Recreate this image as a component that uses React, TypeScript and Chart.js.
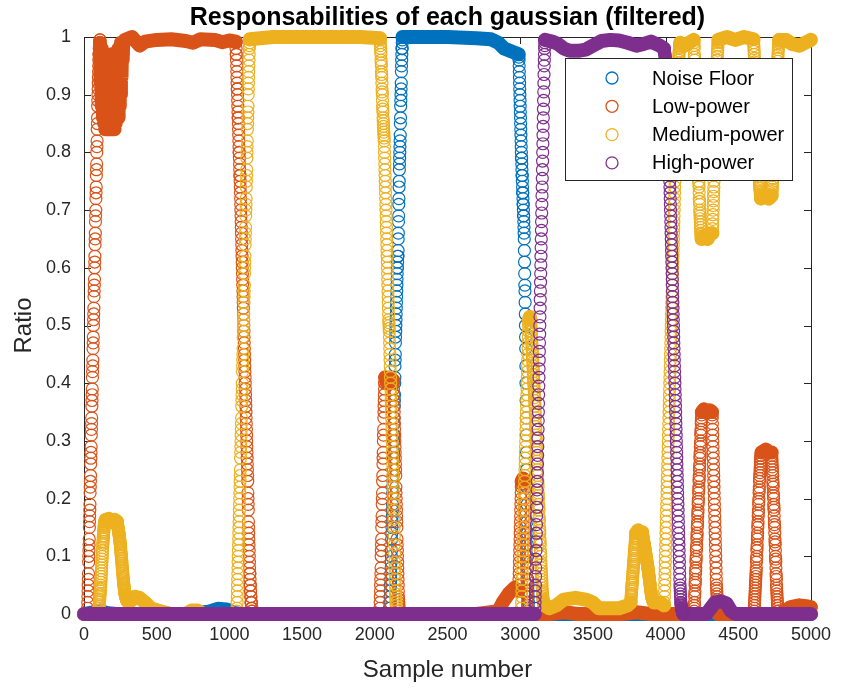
import React, { useEffect, useRef } from "react";
import { Chart, registerables } from "chart.js";
Chart.register(...registerables);

// ---------- axes ----------
const xTicks = [0, 500, 1000, 1500, 2000, 2500, 3000, 3500, 4000, 4500, 5000];
const yTicks = [0, 0.1, 0.2, 0.3, 0.4, 0.5, 0.6, 0.7, 0.8, 0.9, 1];
const yTickLabels = ["0", "0.1", "0.2", "0.3", "0.4", "0.5", "0.6", "0.7", "0.8", "0.9", "1"];

const titleText = "Responsabilities of each gaussian (filtered)";
const xLabel = "Sample number";
const yLabel = "Ratio";

const seriesNames = ["Noise Floor", "Low-power", "Medium-power", "High-power"];
const seriesColors = ["#0072BD", "#D95319", "#EDB120", "#7E2F8E"];

// ---------- data (ratio in %) ----------
// "bands": slowly varying stretches, [sample, %] pairs
// "runs": steep stretches, [first sample, sample step, values in %]

const noiseBands = [
  [[0, 0], [60, 0.3], [110, 0.6], [150, 0.2], [220, 0], [700, 0], [860, 0.4], [920, 0.9], [980, 0.8], [1030, 0.2], [1080, 0], [2000, 0], [2100, 0]],
  [[2190, 100], [2300, 100], [2500, 100], [2700, 99.8], [2800, 99.6], [2850, 99], [2890, 98], [2950, 97.4], [2990, 97]],
  [[3060, 0], [4000, 0], [5000, 0]],
];
const noiseRuns = [
  [2100, 1, [0, 0, 1, 1, 2, 2, 3, 4, 5, 5, 6, 7, 8, 9, 10, 11, 13, 14, 15, 16, 17, 18, 19, 21, 22, 23, 24, 25, 27, 28, 30, 31, 33, 34, 36, 37, 38, 40, 41, 43, 44, 45, 47, 48, 49, 50, 51, 52, 53, 54, 55, 56, 57, 58, 59, 60, 60, 61, 62, 62, 63, 65, 66, 68, 69, 71, 72, 74, 75, 77, 78, 79, 80, 81, 82, 83, 85, 86, 88, 89, 90, 91, 92, 94, 95, 96, 97, 98, 98, 99, 99.5]],
  [2990, 1, [97, 96.5, 96, 95, 94, 93, 92, 91, 90, 89, 88, 87, 86, 85, 84, 83, 82, 81, 80, 79, 79, 78, 77, 76, 76, 75, 74, 73, 73, 72, 71, 71, 70, 69, 69, 68, 67, 66, 65, 63, 61, 59, 57, 56, 54, 52, 50, 48, 46, 43, 40, 37, 34, 31, 28, 25, 22, 19, 16, 14, 12, 10, 8, 6, 5, 4, 3, 2, 1, 0.5, 0]],
];

const lowBands = [
  [[0, 0], [24, 0]],
  [[110, 99], [114, 92], [118, 98], [122, 88], [126, 97], [130, 86], [134, 96], [138, 85], [142, 95], [146, 84], [150, 97], [154, 85], [158, 94], [162, 84], [166, 96], [170, 85], [174, 93], [178, 84], [182, 95], [186, 85], [190, 97], [194, 84], [198, 93], [202, 85], [206, 96], [210, 84], [214, 94], [218, 85], [222, 97], [226, 86], [230, 95], [234, 86], [238, 98], [242, 88], [246, 96], [250, 90], [254, 99], [258, 93], [262, 99], [266, 96], [270, 99], [280, 99.5], [330, 100], [383, 98.5], [420, 99.2], [500, 99.5], [600, 99.6], [700, 99.3], [750, 99], [800, 99.6], [900, 99.5], [950, 99.1], [1000, 99.4], [1045, 99.2]],
  [[1159, 0], [1600, 0], [2035, 0]],
  [[2071, 41], [2085, 40], [2100, 41], [2115, 40], [2128, 40.5]],
  [[2170, 0], [2700, 0], [2850, 0.5], [2880, 2], [2920, 3.5], [2960, 4.5], [2990, 4]],
  [[3010, 23], [3020, 23.5], [3028, 23]],
  [[3054, 0], [3200, 0], [3300, 0.3], [3400, 0], [3700, 0], [3800, 0.3], [3900, 0], [4195, 0]],
  [[4249, 35], [4265, 35.5], [4285, 35], [4305, 35.3], [4320, 35]],
  [[4360, 0], [4608, 0]],
  [[4660, 28], [4690, 28.5], [4715, 28], [4730, 28]],
  [[4780, 0], [4820, 0.5], [4860, 1.2], [4920, 1.5], [4980, 1.3], [5000, 1.2]],
];
const lowRuns = [
  [24, 1, [0, 1, 2, 3, 4, 5, 6, 7, 9, 10, 11, 12, 13, 15, 16, 17, 18, 19, 21, 22, 23, 24, 26, 27, 28, 29, 31, 32, 33, 34, 36, 37, 38, 39, 41, 42, 43, 44, 46, 47, 48, 50, 51, 52, 53, 55, 56, 57, 58, 60, 61, 62, 64, 65, 66, 68, 69, 70, 72, 73, 74, 76, 77, 78, 80, 81, 82, 84, 85, 86, 88, 89, 90, 91, 92, 93, 94, 95, 96, 97, 97, 98, 98, 99, 99, 99.5, 99.5]],
  [1045, 1, [99, 98, 97, 97, 96, 95, 94, 93, 92, 91, 91, 90, 89, 88, 87, 86, 86, 85, 84, 83, 82, 81, 80, 80, 79, 78, 77, 76, 76, 75, 74, 73, 72, 71, 70, 69, 68, 67, 66, 65, 64, 63, 62, 61, 60, 59, 58, 57, 56, 55, 54, 53, 52, 51, 50, 49, 48, 47, 46, 45, 44, 43, 42, 41, 40, 39, 38, 37, 36, 35, 34, 33, 32, 31, 30, 29, 28, 27, 26, 25, 24, 23, 21, 20, 19, 18, 16, 15, 14, 13, 12, 11, 10, 9, 8, 7, 7, 6, 5, 5, 4, 4, 3, 3, 2, 2, 2, 1, 1, 1, 0.5, 0.5, 0, 0, 0]],
  [2035, 1, [0, 1, 2, 3, 4, 5, 6, 7, 8, 10, 11, 12, 13, 15, 16, 17, 19, 20, 21, 23, 24, 26, 27, 28, 30, 31, 32, 34, 35, 36, 37, 38, 39, 40, 40, 41, 41]],
  [2128, 1, [40, 39, 38, 37, 36, 35, 34, 33, 32, 31, 30, 29, 28, 27, 26, 25, 24, 22, 21, 20, 19, 18, 17, 16, 15, 13, 12, 11, 10, 9, 8, 7, 6, 5, 4, 3, 2.5, 2, 1.5, 1, 0.5, 0, 0]],
  [2990, 1, [4, 5, 6, 7, 8, 9, 10, 11, 12, 13, 14, 15, 16, 17, 18, 19, 20, 21, 22, 22.5, 23]],
  [3028, 1, [22.5, 22, 21, 20, 19, 18, 17, 16, 15, 14, 13, 12, 11, 10, 9, 8, 7, 6, 5, 4, 3.5, 3, 2, 1.5, 1, 0.5, 0]],
  [4195, 1, [0, 0.5, 1, 1.5, 2, 3, 3.5, 4, 5, 5.5, 6, 7, 7.5, 8, 9, 9.5, 10, 11, 11.5, 12, 13, 13.5, 14, 15, 15.5, 16, 17, 17.5, 18, 19, 19.5, 20, 21, 21.5, 22, 23, 23.5, 24, 25, 25.5, 26, 27, 27.5, 28, 29, 29.5, 30, 31, 31.5, 32, 33, 33.5, 34, 34.5, 35]],
  [4320, 1, [34.5, 34, 33, 32, 31, 30, 29, 28, 27, 26, 25, 24, 23, 22, 21, 20, 19, 18, 17, 16, 15, 14, 13, 12, 11, 10, 9, 8, 7, 6, 5, 4.5, 4, 3.5, 3, 2.5, 2, 1.5, 1, 0.5, 0]],
  [4608, 1, [0, 0.5, 1, 1.5, 2, 2.5, 3, 3.5, 4, 4.5, 5, 5.5, 6, 6.5, 7, 7.5, 8, 9, 9.5, 10, 11, 11.5, 12, 13, 13.5, 14, 15, 15.5, 16, 17, 17.5, 18, 19, 19.5, 20, 21, 21.5, 22, 23, 23.5, 24, 24.5, 25, 25.5, 26, 26.5, 27, 27, 27.5, 27.5, 28, 28, 28]],
  [4730, 1, [27.5, 27, 26.5, 26, 25.5, 25, 24.5, 24, 23, 22.5, 22, 21, 20.5, 20, 19, 18.5, 18, 17, 16, 15.5, 15, 14, 13, 12.5, 12, 11, 10, 9.5, 9, 8, 7, 6.5, 6, 5, 4.5, 4, 3.5, 3, 2.5, 2, 1.5, 1.5, 1, 1, 0.5, 0.5, 0, 0, 0, 0, 0]],
];

const medBands = [
  [[0, 0], [100, 0]],
  [[150, 16.3], [170, 16.5], [190, 16], [210, 16.3], [228, 16]],
  [[312, 2], [330, 2.5], [350, 3], [380, 2.8], [420, 2], [460, 1], [520, 0.5], [600, 0], [700, 0], [740, 0.6], [780, 0.6], [820, 0], [1050, 0]],
  [[1140, 99.6], [1300, 100], [1500, 100], [1700, 100], [1900, 100], [2036, 99.8]],
  [[2150, 0], [2600, 0], [3008, 0]],
  [[3060, 51], [3066, 51.5], [3072, 51]],
  [[3168, 1.5], [3200, 1], [3250, 1.5], [3300, 2.5], [3380, 2.8], [3450, 2.5], [3500, 2], [3540, 1], [3600, 1], [3680, 1], [3740, 1.5], [3760, 2]],
  [[3796, 14], [3810, 14.5], [3825, 14], [3840, 14.2]],
  [[3921, 2], [3960, 2], [3990, 1.5]],
  [[4100, 99], [4130, 98.5], [4160, 99], [4195, 99.5]],
  [[4247, 65], [4265, 65.5], [4290, 65], [4310, 66], [4322, 66]],
  [[4362, 99.5], [4420, 100], [4480, 99.5], [4540, 100], [4606, 99.6]],
  [[4656, 72], [4680, 72.5], [4710, 72], [4730, 72.5]],
  [[4780, 99.5], [4830, 99.5], [4870, 98.8], [4920, 98.5], [4960, 99], [5000, 99.5]],
];
const medRuns = [
  [100, 1, [0, 0.3, 0.6, 1, 1.3, 1.6, 2, 2.3, 2.6, 3, 3.3, 3.6, 4, 4.3, 4.6, 5, 5.5, 6, 6.5, 7, 7.5, 8, 8.5, 9, 9.5, 10, 10.5, 11, 11.5, 12, 12.3, 12.6, 13, 13.3, 13.6, 14, 14.3, 14.6, 15, 15.2, 15.4, 15.6, 15.8, 16, 16, 16.2, 16.2, 16.3, 16.3, 16.3, 16.3]],
  [228, 1, [16, 15.8, 15.6, 15.5, 15.3, 15.1, 15, 14.8, 14.6, 14.5, 14.3, 14.1, 14, 13.8, 13.6, 13.4, 13.2, 13, 12.8, 12.6, 12.4, 12.2, 12, 11.7, 11.4, 11.1, 10.8, 10.5, 10.2, 10, 9.7, 9.4, 9.1, 8.8, 8.5, 8.2, 7.9, 7.6, 7.3, 7, 6.7, 6.4, 6.1, 5.8, 5.5, 5.3, 5.1, 4.9, 4.7, 4.5, 4.3, 4.1, 3.9, 3.7, 3.5, 3.4, 3.3, 3.2, 3.1, 3, 2.9, 2.8, 2.7, 2.6, 2.5, 2.5, 2.4, 2.4, 2.3, 2.3, 2.2, 2.2, 2.2, 2.1, 2.1, 2.1, 2, 2, 2, 2, 2, 2, 2, 2, 2]],
  [1050, 1, [0, 0.5, 1, 2, 3, 4, 5, 6, 7, 8, 9, 10, 11, 12, 13, 14, 15, 16, 17, 18, 19, 20, 21, 22, 23, 24, 25, 27, 28, 29, 30, 31, 32, 33, 34, 36, 37, 38, 39, 40, 42, 43, 44, 45, 46, 48, 49, 50, 51, 52, 54, 55, 56, 57, 59, 60, 61, 62, 64, 65, 66, 67, 69, 70, 71, 72, 74, 75, 76, 77, 79, 80, 81, 82, 84, 85, 86, 87, 88, 90, 91, 92, 93, 94, 95, 96, 97, 98, 98.5, 99, 99.5]],
  [2036, 1, [99.8, 99.5, 99, 98.5, 98, 97.5, 97, 96, 95.5, 95, 94, 93.5, 93, 92, 91, 90.5, 90, 89, 88, 87.5, 87, 86, 85.5, 85, 84.5, 84, 83.5, 83, 82.5, 82, 81, 80, 79, 78, 77, 76, 75, 74, 73, 72, 71, 70, 69, 68, 67, 66, 65, 64, 63, 62, 61, 60, 59, 58, 57, 56, 55, 54, 53, 52, 51, 50.5, 50, 49.5, 49, 48, 47, 46, 45, 44, 43, 42, 41, 40, 39, 38, 37, 36, 35, 34, 33, 32, 31, 30, 29, 28, 27, 26, 25, 24, 23, 22, 21, 20, 19, 18, 16.5, 15, 13.5, 12, 10.5, 9, 8, 7, 6, 5, 4, 3.5, 3, 2.5, 2, 1.5, 1, 0.5, 0]],
  [3008, 1, [0, 1, 2, 3, 4, 5, 6, 7, 8, 9, 10, 11, 12, 13, 14, 15, 16, 17, 18, 19, 20, 21, 22, 23, 24, 25, 26, 27, 28, 29, 30, 31, 32, 33, 34, 35, 36, 37, 38, 39, 40, 41, 42, 43, 44, 45, 46, 47, 48, 49, 50, 50.5, 51]],
  [3072, 1, [51, 50.5, 50, 49.5, 49, 48.5, 48, 47.5, 47, 46.5, 46, 45.5, 45, 44.5, 44, 43.5, 43, 42.5, 42, 41.5, 41, 40.5, 40, 39.5, 39, 38.5, 38, 37.5, 37, 36.5, 36, 35, 34.5, 34, 33, 32.5, 32, 31, 30.5, 30, 29, 28.5, 28, 27, 26.5, 26, 25, 24.5, 24, 23, 22.5, 22, 21, 20.5, 20, 19, 18.5, 18, 17, 16.5, 16, 15, 14.5, 14, 13, 12.5, 12, 11, 10.5, 10, 9, 8.5, 8, 7.5, 7, 6.5, 6, 5.5, 5, 4.5, 4, 3.7, 3.4, 3.1, 2.8, 2.6, 2.4, 2.2, 2, 1.9, 1.8, 1.7, 1.6, 1.6, 1.5, 1.5, 1.5]],
  [3760, 1, [2, 2.3, 2.6, 3, 3.3, 3.6, 4, 4.3, 4.6, 5, 5.3, 5.6, 6, 6.3, 6.6, 7, 7.3, 7.6, 8, 8.3, 8.6, 9, 9.3, 9.6, 10, 10.3, 10.6, 11, 11.3, 11.6, 12, 12.3, 12.6, 13, 13.3, 13.6, 14]],
  [3840, 1, [14, 13.9, 13.7, 13.6, 13.4, 13.3, 13.1, 13, 12.8, 12.7, 12.5, 12.4, 12.2, 12.1, 11.9, 11.8, 11.6, 11.5, 11.3, 11.2, 11, 10.8, 10.7, 10.5, 10.4, 10.2, 10, 9.9, 9.7, 9.6, 9.4, 9.2, 9.1, 8.9, 8.7, 8.6, 8.4, 8.2, 8.1, 7.9, 7.7, 7.5, 7.4, 7.2, 7, 6.8, 6.6, 6.4, 6.2, 6, 5.8, 5.6, 5.4, 5.2, 5, 4.8, 4.6, 4.4, 4.2, 4, 3.8, 3.6, 3.4, 3.3, 3.1, 3, 2.9, 2.8, 2.7, 2.6, 2.5, 2.4, 2.4, 2.3, 2.3, 2.2, 2.2, 2.1, 2.1, 2, 2, 2]],
  [3990, 1, [1.5, 2, 3, 4, 5, 6, 7, 8, 9, 10, 11, 12, 13, 14, 15, 16, 17, 18, 19, 20, 21, 22, 23, 24, 25, 26, 27, 28, 29, 30, 31, 32, 33, 34, 35, 36, 37, 38, 39, 40, 41, 42, 43, 44, 45, 46, 47, 48, 49, 50, 51, 52, 53, 54, 55, 56, 57, 58, 59, 60, 61, 62, 63, 64, 65, 66, 67, 68, 69, 70, 71, 72, 73, 74, 75, 76, 77, 78, 79, 80, 81, 82, 83, 84, 85, 86, 87, 88, 88.5, 89, 90, 90.5, 91, 92, 92.5, 93, 94, 94.5, 95, 95.5, 96, 96.5, 97, 97.3, 97.6, 98, 98.2, 98.4, 98.6, 98.8, 99]],
  [4195, 1, [99, 98.5, 98, 97, 96.5, 96, 95, 94.5, 94, 93, 92.5, 92, 91, 90, 89.5, 89, 88, 87, 86.5, 86, 85, 84, 83.5, 83, 82, 81, 80.5, 80, 79, 78, 77.5, 77, 76, 75, 74.5, 74, 73, 72, 71.5, 71, 70, 69.5, 69, 68.5, 68, 67.5, 67, 66.5, 66, 65.8, 65.5, 65.2, 65]],
  [4322, 1, [66, 66.8, 67.6, 68.4, 69.2, 70, 70.8, 71.6, 72.4, 73.2, 74, 75, 76, 77, 78, 79, 80, 81, 82, 83, 84, 85, 86, 87, 88, 89, 90, 91, 92, 93, 93.8, 94.6, 95.3, 96, 96.6, 97.2, 97.7, 98.2, 98.6, 99, 99.2]],
  [4606, 1, [99, 98.5, 98, 97.5, 97, 96.3, 95.7, 95, 94.4, 93.8, 93.2, 92.6, 92, 91.3, 90.7, 90, 89.4, 88.8, 88.2, 87.6, 87, 86.3, 85.7, 85, 84.4, 83.8, 83.2, 82.6, 82, 81.3, 80.7, 80, 79.4, 78.8, 78.2, 77.6, 77, 76.4, 75.8, 75.2, 74.8, 74.4, 74, 73.7, 73.4, 73.1, 72.8, 72.6, 72.4, 72.2, 72]],
  [4730, 1, [72.5, 72.8, 73.2, 73.6, 74, 74.5, 75, 75.5, 76, 76.6, 77.2, 77.8, 78.4, 79, 79.6, 80.2, 80.8, 81.4, 82, 82.6, 83.2, 83.8, 84.4, 85, 85.6, 86.2, 86.8, 87.4, 88, 88.6, 89.2, 89.8, 90.4, 91, 91.6, 92.2, 92.8, 93.4, 94, 94.6, 95.2, 95.8, 96.3, 96.8, 97.3, 97.8, 98.2, 98.6, 99, 99.3, 99.5]],
];

const highBands = [
  [[0, 0], [1000, 0], [2000, 0], [3100, 0]],
  [[3170, 99.5], [3220, 99.2], [3260, 98.8], [3300, 98], [3340, 97.6], [3400, 97.6], [3450, 97.8], [3500, 98.5], [3560, 99.3], [3620, 99.5], [3680, 99.4], [3740, 99], [3800, 98.5], [3850, 98.8], [3900, 99.2], [3960, 98.5], [3990, 98]],
  [[4125, 0], [4280, 0], [4310, 1], [4340, 2], [4380, 2.2], [4420, 1.8], [4450, 0.5], [4480, 0], [5000, 0]],
];
const highRuns = [
  [3100, 1, [0, 1, 2, 3, 4, 5, 6.5, 8, 9.5, 11, 12.5, 14, 15.5, 17, 18.5, 20, 21.5, 23, 24.5, 26, 27.5, 29, 30.5, 32, 33.5, 35, 36.5, 38, 39.5, 41, 42.5, 44, 45.5, 47, 48.5, 50, 51.5, 53, 54.5, 56, 57.5, 59, 60.5, 62, 63.5, 65, 66.5, 68, 69.5, 71, 72.5, 74, 75.5, 77, 78.5, 80, 81.5, 83, 84.5, 86, 87.5, 89, 90.5, 92, 93.5, 95, 96, 97, 98, 98.5, 99]],
  [3990, 1, [98, 97.8, 97.6, 97.4, 97.2, 97, 96.8, 96.6, 96.4, 96.2, 96, 95.8, 95.6, 95.4, 95.2, 95, 94.8, 94.6, 94.4, 94.2, 94, 93, 92, 91, 90, 89, 88, 87, 86, 85, 84, 83, 82, 81, 80, 79, 78, 77, 76, 75, 74, 73, 72, 71, 70, 69, 68, 67, 66, 65, 64, 63, 62, 61, 60, 59, 58, 57, 56, 55, 54, 53, 52, 51, 50, 49, 48, 47, 46, 45, 44, 43, 42, 41, 40, 39, 38, 37, 36, 35, 34, 33, 32, 31, 30, 29, 28, 27, 26, 25, 24, 23, 22, 21, 20, 19, 18, 17, 16, 15, 14, 13, 12, 11, 10, 9, 8, 7, 6, 5, 4.5, 4, 3.5, 3, 2.5, 2, 1.8, 1.6, 1.4, 1.2, 1, 0.9, 0.8, 0.7, 0.6, 0.5, 0.4, 0.3, 0.2, 0.1, 0, 0, 0, 0, 0, 0]],
];

const allBands = [noiseBands, lowBands, medBands, highBands];
const allRuns = [noiseRuns, lowRuns, medRuns, highRuns];

const FONT = "'Liberation Sans', Arial, Helvetica, sans-serif";
const AXIS_COLOR = "#262626";

function buildDatasets() {
  const ds: any[] = [];
  for (let s = 0; s < 4; s++) {
    const color = seriesColors[s];
    const base = (3 - s) * 2;
    for (const seg of allBands[s]) {
      ds.push({
        type: "line",
        data: seg.map((p) => ({ x: p[0], y: p[1] / 100 })),
        borderColor: color,
        borderWidth: 14,
        borderCapStyle: "round",
        borderJoinStyle: "round",
        pointRadius: 0,
        tension: 0,
        fill: false,
        clip: false,
        order: base + 1,
      });
    }
    const pts: { x: number; y: number }[] = [];
    for (const run of allRuns[s]) {
      const start = run[0] as number;
      const step = run[1] as number;
      (run[2] as number[]).forEach((v, i) => pts.push({ x: start + i * step, y: v / 100 }));
    }
    ds.push({
      type: "scatter",
      data: pts,
      showLine: false,
      pointStyle: "circle",
      pointRadius: 6,
      pointBorderWidth: 1.2,
      pointBackgroundColor: "rgba(0,0,0,0)",
      pointBorderColor: color,
      clip: false,
      order: base,
    });
  }
  return ds;
}

const decorPlugin = {
  id: "decor",
  beforeDatasetsDraw(chart: any) {
    const { ctx, chartArea: a } = chart;
    const xs = chart.scales.x;
    const ys = chart.scales.y;
    ctx.save();
    ctx.strokeStyle = AXIS_COLOR;
    ctx.lineWidth = 1;
    ctx.strokeRect(Math.round(a.left) + 0.5, Math.round(a.top) + 0.5, Math.round(a.right - a.left), Math.round(a.bottom - a.top));
    ctx.beginPath();
    const tl = 7;
    xTicks.forEach((v) => {
      const px = Math.round(xs.getPixelForValue(v)) + 0.5;
      ctx.moveTo(px, a.bottom);
      ctx.lineTo(px, a.bottom - tl);
      ctx.moveTo(px, a.top);
      ctx.lineTo(px, a.top + tl);
    });
    yTicks.forEach((v) => {
      const py = Math.round(ys.getPixelForValue(v)) + 0.5;
      ctx.moveTo(a.left, py);
      ctx.lineTo(a.left + tl, py);
      ctx.moveTo(a.right, py);
      ctx.lineTo(a.right - tl, py);
    });
    ctx.stroke();
    ctx.restore();
  },
  afterDraw(chart: any) {
    const { ctx, chartArea: a } = chart;
    ctx.save();
    ctx.fillStyle = "#000";
    // title
    ctx.font = `bold 25px ${FONT}`;
    ctx.textAlign = "center";
    ctx.textBaseline = "alphabetic";
    ctx.fillText(titleText, (a.left + a.right) / 2, 25);
    // axis labels
    ctx.fillStyle = AXIS_COLOR;
    ctx.font = `24px ${FONT}`;
    ctx.fillText(xLabel, (a.left + a.right) / 2, 677);
    ctx.save();
    ctx.translate(31, (a.top + a.bottom) / 2);
    ctx.rotate(-Math.PI / 2);
    ctx.fillText(yLabel, 0, 0);
    ctx.restore();
    // legend
    const lx = 565, ly = 58, lw = 227, lh = 122;
    ctx.fillStyle = "#fff";
    ctx.fillRect(lx, ly, lw, lh);
    ctx.strokeStyle = AXIS_COLOR;
    ctx.lineWidth = 1;
    ctx.strokeRect(lx + 0.5, ly + 0.5, lw, lh);
    ctx.font = `20px ${FONT}`;
    ctx.textAlign = "left";
    ctx.textBaseline = "middle";
    seriesNames.forEach((name, i) => {
      const cy = 78 + i * 28.3;
      ctx.beginPath();
      ctx.strokeStyle = seriesColors[i];
      ctx.lineWidth = 1.3;
      ctx.arc(612, cy, 6, 0, Math.PI * 2);
      ctx.stroke();
      ctx.fillStyle = "#000";
      ctx.fillText(name, 652, cy + 1);
    });
    ctx.restore();
  },
};

export default function App() {
  const ref = useRef<HTMLCanvasElement | null>(null);
  useEffect(() => {
    document.body.style.margin = "0";
    const canvas = ref.current!;
    const chart = new Chart(canvas, {
      type: "scatter",
      data: { datasets: buildDatasets() },
      options: {
        responsive: false,
        animation: false,
        events: [],
        layout: { padding: { top: 37, right: 26, left: 0, bottom: 0 } },
        plugins: { legend: { display: false }, tooltip: { enabled: false }, title: { display: false } },
        scales: {
          x: {
            type: "linear",
            min: 0,
            max: 5000,
            grid: { display: false, drawTicks: false },
            border: { display: false },
            afterBuildTicks: (s: any) => {
              s.ticks = xTicks.map((v) => ({ value: v }));
            },
            afterFit: (s: any) => {
              s.height = 76;
            },
            ticks: {
              autoSkip: false,
              maxRotation: 0,
              padding: 10,
              color: AXIS_COLOR,
              font: { family: FONT, size: 18 },
              callback: (v: any) => String(v),
            },
          },
          y: {
            type: "linear",
            min: 0,
            max: 1,
            grid: { display: false, drawTicks: false },
            border: { display: false },
            afterBuildTicks: (s: any) => {
              s.ticks = yTicks.map((v) => ({ value: v }));
            },
            afterFit: (s: any) => {
              s.width = 84;
            },
            ticks: {
              autoSkip: false,
              padding: 13,
              color: AXIS_COLOR,
              font: { family: FONT, size: 18 },
              callback: (v: any) => {
                const i = yTicks.findIndex((t) => Math.abs(t - v) < 1e-9);
                return i >= 0 ? yTickLabels[i] : "";
              },
            },
          },
        },
      },
      plugins: [decorPlugin],
    } as any);
    return () => chart.destroy();
  }, []);
  return <canvas ref={ref} width={841} height={690} style={{ display: "block", width: 841, height: 690 }} />;
}
